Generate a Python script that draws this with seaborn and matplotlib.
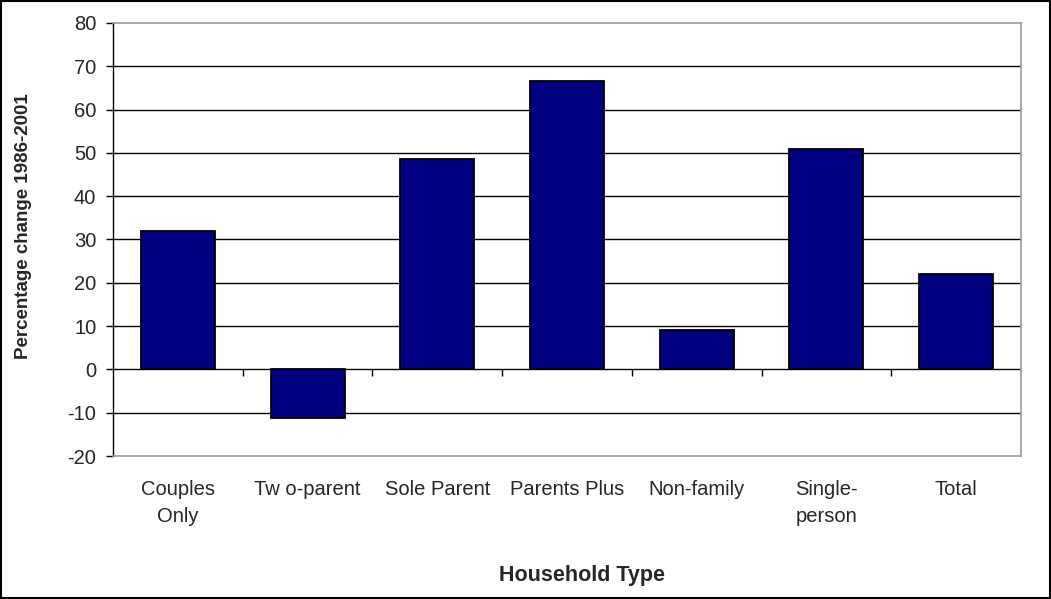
import matplotlib
matplotlib.use("Agg")
import matplotlib.pyplot as plt
import seaborn as sns
import pandas as pd

# household types and % change 1986-2001
categories = ["Couples\nOnly", "Tw o-parent", "Sole Parent", "Parents Plus",
              "Non-family", "Single-\nperson", "Total"]
values = [32, -11.2, 48.5, 66.5, 9, 51, 22]
y_ticks = list(range(-20, 81, 10))

df = pd.DataFrame({"type": categories, "change": values})

sns.set_theme(style="white")
plt.rcParams["font.family"] = ["Liberation Sans", "DejaVu Sans"]

fig = plt.figure(figsize=(10.51, 5.99), dpi=100)
ax = fig.add_axes([113 / 1051, 1 - 456 / 599, 908 / 1051, 433 / 599])

# gridlines first so bars sit on top
for y in y_ticks[1:-1]:
    ax.axhline(y, color="black", linewidth=1, zorder=0)

sns.barplot(data=df, x="type", y="change", color="#000080", width=0.57,
            edgecolor="black", linewidth=1.3, saturation=1, ax=ax, zorder=2)

ax.set_ylim(-20, 80)
ax.set_xlim(-0.5, len(categories) - 0.5)
ax.set_yticks(y_ticks)
ax.set_yticklabels([str(t) for t in y_ticks], fontsize=14.5)
ax.tick_params(axis="y", left=True, direction="out", length=5, width=1,
               color="black", pad=7)
ax.set_xticks(range(len(categories)))
ax.set_xticklabels(categories, fontsize=14.5, linespacing=1.55)
ax.tick_params(axis="x", bottom=False, pad=11)

for side in ["top", "right", "bottom"]:
    ax.spines[side].set_color("#999999")
    ax.spines[side].set_linewidth(1.2)
ax.spines["left"].set_color("black")
ax.spines["left"].set_linewidth(1)

# category boundary ticks hanging off the zero line
sec = ax.secondary_xaxis(0.2)
sec.set_xticks([i + 0.5 for i in range(len(categories) - 1)])
sec.set_xticklabels([])
sec.tick_params(direction="out", length=5, width=1, color="black")
sec.spines["bottom"].set_visible(False)

ax.set_xlabel("Household Type", fontsize=15.5, fontweight="bold")
ax.set_ylabel("Percentage change 1986-2001", fontsize=13.5, fontweight="bold")
ax.xaxis.set_label_coords(0.516, -0.252)
ax.yaxis.set_label_coords(-0.089, 0.53)

# outer chart border
fig.patches.append(plt.Rectangle((0.001, 0.001), 0.998, 0.997, transform=fig.transFigure,
                                 fill=False, edgecolor="black", linewidth=1.5))

fig.savefig("out.png", dpi=100)
